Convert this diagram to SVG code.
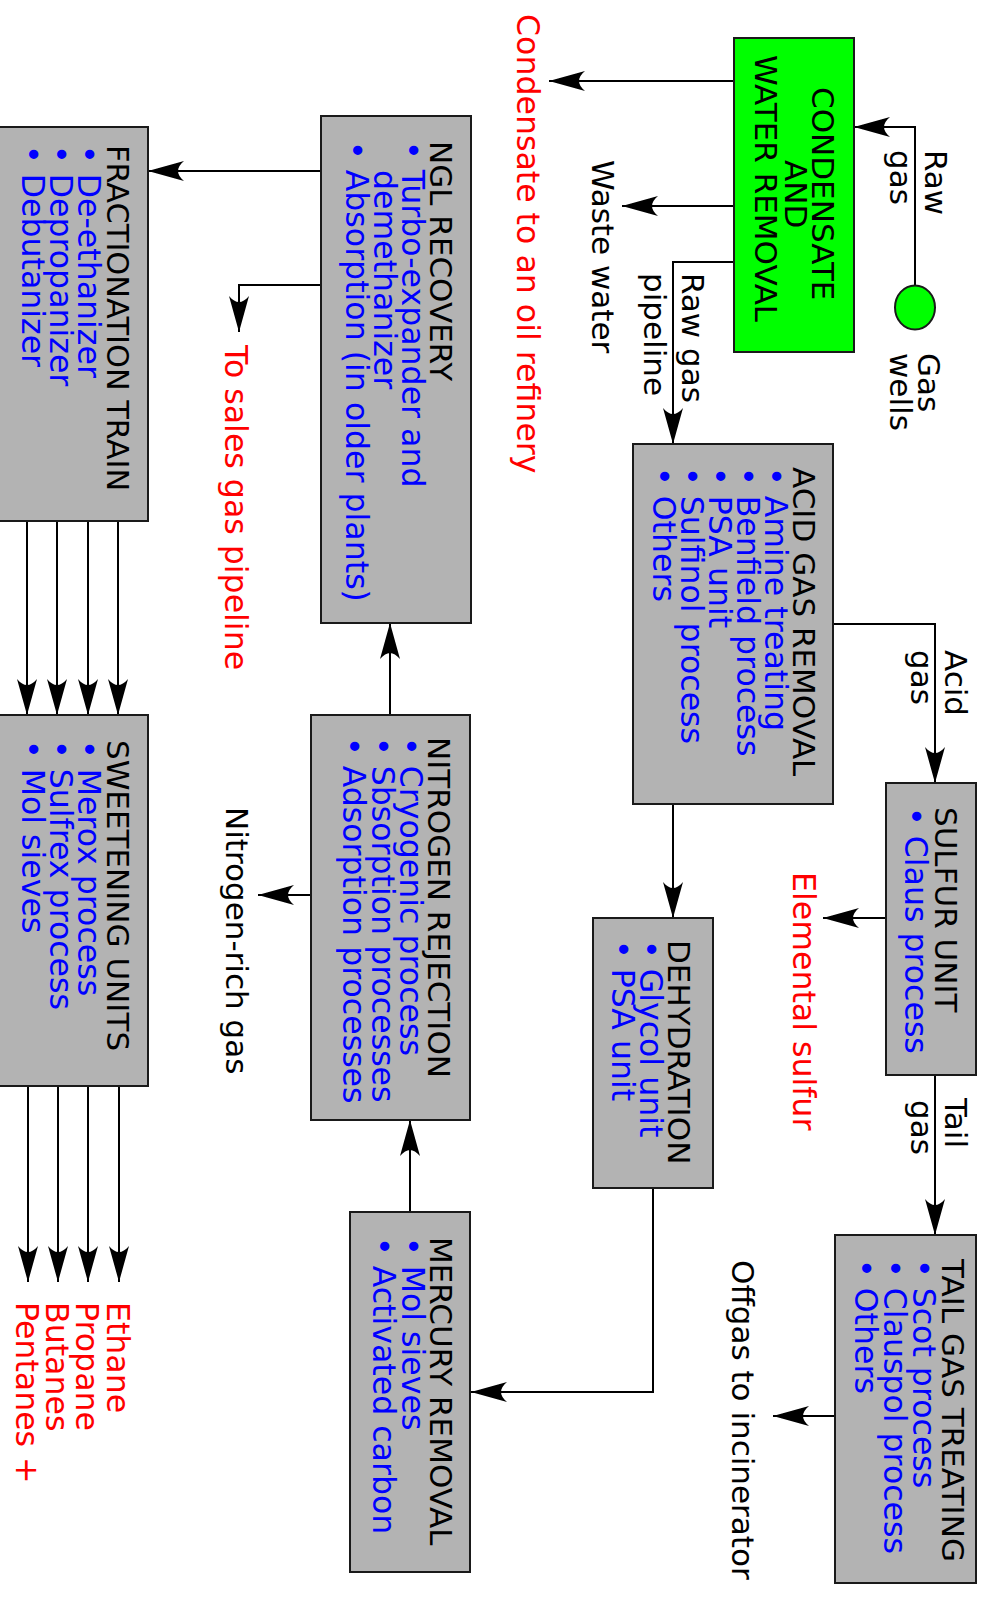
<svg xmlns="http://www.w3.org/2000/svg" width="982" height="1597" viewBox="0 0 982 1597">
<style>
.box{fill:#b3b3b3;stroke:#1a1a1a;stroke-width:2}
.t{font-family:"DejaVu Sans","Liberation Sans",sans-serif;font-size:31px}
.k{fill:#000}
.b{fill:#0000ff;font-size:31.6px}
.r{fill:#ff0000;font-size:31.6px}
.c{fill:none;stroke:#000;stroke-width:2;marker-end:url(#ah)}
</style>
<defs>
<marker id="ah" markerUnits="userSpaceOnUse" orient="auto" refX="0" refY="0" markerWidth="40" markerHeight="24" overflow="visible">
<path d="M0,0 L-36,-10 C-28,-3 -28,3 -36,10 Z" fill="#000"/>
</marker>
</defs>
<rect width="982" height="1597" fill="#fff"/>

<g id="connectors">
<path class="c" d="M915,286 V127 H854"/>
<path class="c" d="M734,81 H549"/>
<path class="c" d="M734,206 H622"/>
<path class="c" d="M734,262 H673 V444"/>
<path class="c" d="M833,624 H935 V783"/>
<path class="c" d="M673,804 V918"/>
<path class="c" d="M886,918 H823"/>
<path class="c" d="M935,1075 V1235"/>
<path class="c" d="M835,1416 H773"/>
<path class="c" d="M653,1188 V1392 H471"/>
<path class="c" d="M410,1212 V1120"/>
<path class="c" d="M390,715 V623"/>
<path class="c" d="M311,895 H258"/>
<path class="c" d="M321,171 H148"/>
<path class="c" d="M321,285 H239 V332"/>
<path class="c" d="M27,521 V715"/>
<path class="c" d="M57,521 V715"/>
<path class="c" d="M88,521 V715"/>
<path class="c" d="M118,521 V715"/>
<path class="c" d="M28,1086 V1282"/>
<path class="c" d="M58,1086 V1282"/>
<path class="c" d="M88,1086 V1282"/>
<path class="c" d="M119,1086 V1282"/>
</g>

<g id="labels">
<text class="t k" transform="translate(925,150) rotate(90)">Raw</text>
<text class="t k" transform="translate(890,150) rotate(90)">gas</text>
<text class="t k" transform="translate(918,353) rotate(90)">Gas</text>
<text class="t k" transform="translate(890,353) rotate(90)">wells</text>
<text class="t r" transform="translate(517,14) rotate(90)">Condensate to an oil refinery</text>
<text class="t k" transform="translate(592,160) rotate(90)">Waste water</text>
<text class="t k" transform="translate(682,273) rotate(90)">Raw gas</text>
<text class="t k" transform="translate(644,273) rotate(90)">pipeline</text>
<text class="t k" transform="translate(945,650) rotate(90)">Acid</text>
<text class="t k" transform="translate(911,650) rotate(90)">gas</text>
<text class="t r" transform="translate(793,872) rotate(90)">Elemental sulfur</text>
<text class="t k" transform="translate(945,1098) rotate(90)">Tail</text>
<text class="t k" transform="translate(911,1100) rotate(90)">gas</text>
<text class="t k" transform="translate(732,1260) rotate(90)">Offgas to incinerator</text>
<text class="t k" transform="translate(226,807) rotate(90)">Nitrogen-rich gas</text>
<text class="t r" transform="translate(225,345) rotate(90)">To sales gas pipeline</text>
<text class="t r" transform="translate(107,1302) rotate(90)">Ethane</text>
<text class="t r" transform="translate(76,1302) rotate(90)">Propane</text>
<text class="t r" transform="translate(46,1302) rotate(90)">Butanes</text>
<text class="t r" transform="translate(16,1302) rotate(90)">Pentanes +</text>
</g>

<g id="gas-wells">
<ellipse cx="915" cy="307.5" rx="20" ry="22" fill="#00ff00" stroke="#1a1a1a" stroke-width="2"/>
</g>

<g id="condensate-water-removal">
<rect x="734" y="38" width="120" height="314" fill="#00ff00" stroke="#1a1a1a" stroke-width="2"/>
<text class="t k" transform="translate(812,87) rotate(90)">CONDENSATE</text>
<text class="t k" transform="translate(785,160) rotate(90)">AND</text>
<text class="t k" transform="translate(755,55) rotate(90)">WATER REMOVAL</text>
</g>

<g id="acid-gas-removal">
<rect class="box" x="633" y="444" width="200" height="360"/>
<text class="t k" transform="translate(793,467) rotate(90)">ACID GAS REMOVAL</text>
<text class="t b" transform="translate(765,467) rotate(90)">• Amine treating</text>
<text class="t b" transform="translate(737,467) rotate(90)">• Benfield process</text>
<text class="t b" transform="translate(709,467) rotate(90)">• PSA unit</text>
<text class="t b" transform="translate(681,467) rotate(90)">• Sulfinol process</text>
<text class="t b" transform="translate(653,467) rotate(90)">• Others</text>
</g>

<g id="sulfur-unit">
<rect class="box" x="886" y="783" width="90" height="292"/>
<text class="t k" transform="translate(935,807) rotate(90)">SULFUR UNIT</text>
<text class="t b" transform="translate(905,807) rotate(90)">• Claus process</text>
</g>

<g id="dehydration">
<rect class="box" x="593" y="918" width="120" height="270"/>
<text class="t k" transform="translate(668,940) rotate(90)">DEHYDRATION</text>
<text class="t b" transform="translate(640,940) rotate(90)">• Glycol unit</text>
<text class="t b" transform="translate(612,940) rotate(90)">• PSA unit</text>
</g>

<g id="tail-gas-treating">
<rect class="box" x="835" y="1235" width="141" height="348"/>
<text class="t k" transform="translate(942,1259) rotate(90)">TAIL GAS TREATING</text>
<text class="t b" transform="translate(913,1259) rotate(90)">• Scot process</text>
<text class="t b" transform="translate(884,1259) rotate(90)">• Clauspol process</text>
<text class="t b" transform="translate(855,1259) rotate(90)">• Others</text>
</g>

<g id="mercury-removal">
<rect class="box" x="350" y="1212" width="120" height="360"/>
<text class="t k" transform="translate(430,1237) rotate(90)">MERCURY REMOVAL</text>
<text class="t b" transform="translate(402,1237) rotate(90)">• Mol sieves</text>
<text class="t b" transform="translate(373,1237) rotate(90)">• Activated carbon</text>
</g>

<g id="nitrogen-rejection">
<rect class="box" x="311" y="715" width="159" height="405"/>
<text class="t k" transform="translate(428,737) rotate(90)">NITROGEN REJECTION</text>
<text class="t b" transform="translate(400,737) rotate(90)">• Cryogenic process</text>
<text class="t b" transform="translate(372,737) rotate(90)">• Sbsorption processes</text>
<text class="t b" transform="translate(343,737) rotate(90)">• Adsorption processes</text>
</g>

<g id="ngl-recovery">
<rect class="box" x="321" y="116" width="150" height="507"/>
<text class="t k" transform="translate(430,141) rotate(90)">NGL RECOVERY</text>
<text class="t b" transform="translate(402,141) rotate(90)">• Turbo-expander and</text>
<text class="t b" transform="translate(374,170) rotate(90)">demethanizer</text>
<text class="t b" transform="translate(346,141) rotate(90)">• Absorption (in older plants)</text>
</g>

<g id="fractionation-train">
<rect class="box" x="-2" y="127" width="150" height="394"/>
<text class="t k" transform="translate(107,145) rotate(90)" style="font-size:30.4px">FRACTIONATION TRAIN</text>
<text class="t b" transform="translate(78,145) rotate(90)">• De-ethanizer</text>
<text class="t b" transform="translate(50,145) rotate(90)">• Depropanizer</text>
<text class="t b" transform="translate(22,145) rotate(90)">• Debutanizer</text>
</g>

<g id="sweetening-units">
<rect class="box" x="-2" y="715" width="150" height="371"/>
<text class="t k" transform="translate(107,740) rotate(90)">SWEETENING UNITS</text>
<text class="t b" transform="translate(78,740) rotate(90)">• Merox process</text>
<text class="t b" transform="translate(50,740) rotate(90)">• Sulfrex process</text>
<text class="t b" transform="translate(22,740) rotate(90)">• Mol sieves</text>
</g>
</svg>
